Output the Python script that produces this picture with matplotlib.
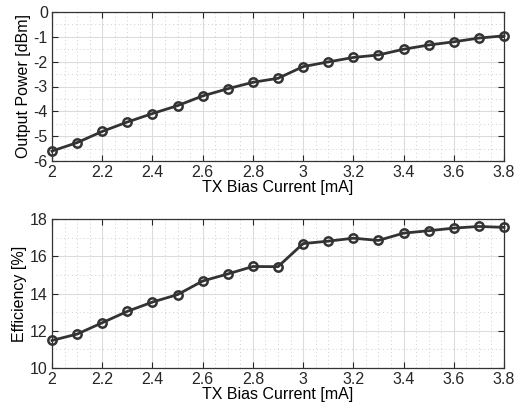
import matplotlib
matplotlib.use('Agg')
import matplotlib.pyplot as plt
import numpy as np

plt.rcParams['font.family'] = ['Liberation Sans', 'DejaVu Sans']

bias = [2.0, 2.1, 2.2, 2.3, 2.4, 2.5, 2.6, 2.7, 2.8, 2.9,
        3.0, 3.1, 3.2, 3.3, 3.4, 3.5, 3.6, 3.7, 3.8]
power = [-5.60, -5.26, -4.81, -4.43, -4.09, -3.77, -3.38, -3.09, -2.83, -2.67,
         -2.20, -2.01, -1.83, -1.73, -1.50, -1.33, -1.20, -1.05, -0.96]
efficiency = [11.48, 11.82, 12.43, 13.04, 13.54, 13.94, 14.67, 15.05, 15.45, 15.44,
              16.68, 16.81, 16.97, 16.85, 17.24, 17.37, 17.51, 17.60, 17.55]
xticks = [2.0, 2.2, 2.4, 2.6, 2.8, 3.0, 3.2, 3.4, 3.6, 3.8]
xticklabels = ['2', '2.2', '2.4', '2.6', '2.8', '3', '3.2', '3.4', '3.6', '3.8']

fig = plt.figure(figsize=(5.23, 4.07), dpi=100)
ax1 = fig.add_axes([52 / 523, 1 - 161 / 407, (504 - 52) / 523, (161 - 12) / 407])
ax2 = fig.add_axes([52 / 523, 1 - 368 / 407, (504 - 52) / 523, (368 - 219) / 407])


def style(ax, ylim, ymaj, ymin):
    ax.set_xlim(2, 3.8)
    ax.set_ylim(*ylim)
    ax.set_xticks(xticks)
    ax.set_xticklabels(xticklabels)
    ax.set_xticks(np.arange(2.0, 3.81, 0.05), minor=True)
    ax.set_yticks(np.arange(ylim[0], ylim[1] + 0.01, ymaj))
    ax.set_yticks(np.arange(ylim[0], ylim[1] + 0.01, ymin), minor=True)
    ax.grid(which='major', color='#dcdcdc', linewidth=0.8)
    ax.grid(which='minor', color='#cfcfcf', linestyle=(0, (1, 3)), linewidth=0.7)
    ax.set_axisbelow(True)
    ax.tick_params(which='major', direction='in', length=4, width=0.8,
                   top=True, right=True, labelsize=11.5, colors='#262626', pad=3)
    ax.tick_params(which='minor', length=0)
    for s in ax.spines.values():
        s.set_color('#333333')
        s.set_linewidth(0.9)
    ax.set_xlabel('TX Bias Current [mA]', fontsize=11.5, labelpad=0)


ax1.plot(bias, power, color='#333333', linewidth=2, marker='o', markersize=6,
         markerfacecolor='none', markeredgewidth=1.8, markeredgecolor='#333333', clip_on=False)
style(ax1, (-6, 0), 1, 0.5)
ax1.set_yticklabels(['-6', '-5', '-4', '-3', '-2', '-1', '0'])
ax1.set_ylabel('Output Power [dBm]', fontsize=11.5, labelpad=2)

ax2.plot(bias, efficiency, color='#333333', linewidth=2, marker='o', markersize=6,
         markerfacecolor='none', markeredgewidth=1.8, markeredgecolor='#333333', clip_on=False)
style(ax2, (10, 18), 2, 1)
ax2.set_yticklabels(['10', '12', '14', '16', '18'])
ax2.set_ylabel('Efficiency [%]', fontsize=11.5, labelpad=2)

fig.savefig('out.png', dpi=100)
